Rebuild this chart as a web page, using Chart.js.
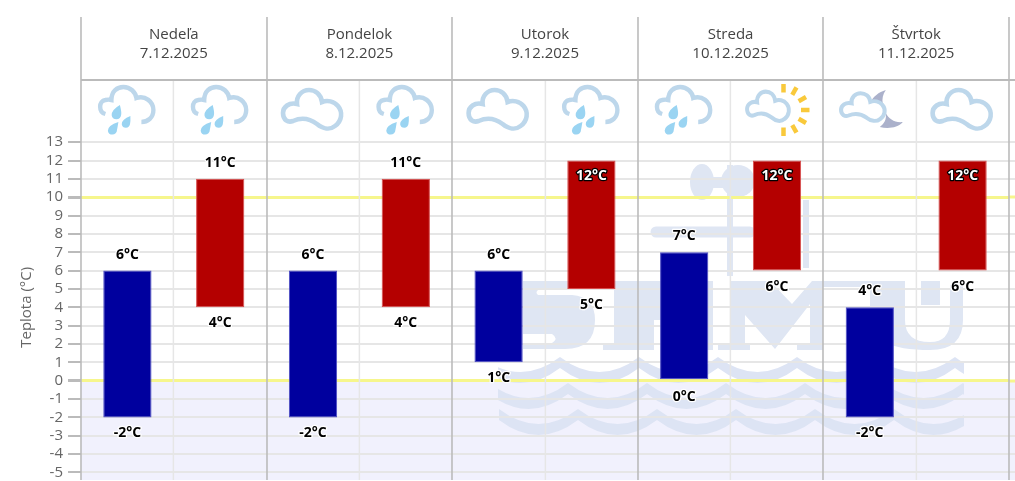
<!DOCTYPE html>
<html>
<head>
<meta charset="utf-8">
<script src="https://cdn.jsdelivr.net/npm/chart.js@4"></script>
<style>
    html, body { margin: 0; padding: 0; background: #fff; overflow: hidden; }
    canvas { display: block; }
</style>
</head>
<body>
<canvas id="teplota-chart" width="1015" height="481"></canvas>
<script>
// data
const days = ['Nedeľa', 'Pondelok', 'Utorok', 'Streda', 'Štvrtok'];
const dates = ['7.12.2025', '8.12.2025', '9.12.2025', '10.12.2025', '11.12.2025'];
const parts = ['N1', 'D1', 'N2', 'D2', 'N3', 'D3', 'N4', 'D4', 'N5', 'D5'];
const lows = [-2, 4, -2, 4, 1, 5, 0, 6, -2, 6];
const highs = [6, 11, 6, 11, 6, 12, 7, 12, 4, 12];
const icons = ['rain', 'rain', 'cloud', 'rain', 'cloud', 'rain', 'rain', 'sun', 'moon', 'cloud'];
const yTicks = [-5, -4, -3, -2, -1, 0, 1, 2, 3, 4, 5, 6, 7, 8, 9, 10, 11, 12, 13];

const FONT = '"Open Sans", sans-serif';
const LINE_DARK = '#bbbbbb';
const LINE_LIGHT = '#e6e6e6';
const YELLOW = '#f6f68c';
const CLOUD = '#bdd7eb';
const WATER = '#9ad4f2';
const MARK = '#dfe6f3';

// cloud outline, drawn in a 72x60 icon box
function cloudPath(ctx) {
    ctx.beginPath();
    ctx.moveTo(21, 24);
    ctx.bezierCurveTo(13, 22, 7, 27, 7, 33);
    ctx.bezierCurveTo(7, 40, 12, 43, 17, 41);
    ctx.bezierCurveTo(26, 37, 33, 38, 41, 44);
    ctx.bezierCurveTo(47, 49, 54, 50, 59, 46);
    ctx.bezierCurveTo(66, 41, 67, 32, 62, 26);
    ctx.bezierCurveTo(58, 21, 51, 20, 46, 22);
    ctx.bezierCurveTo(45, 14, 39, 10, 33, 10);
    ctx.bezierCurveTo(26, 10, 20, 16, 21, 24);
    ctx.closePath();
}

function drop(ctx, cx, cy, r, tipX, tipY) {
    ctx.beginPath();
    ctx.moveTo(tipX, tipY);
    ctx.quadraticCurveTo(cx + r + 0.5, cy - r * 0.5, cx + r, cy);
    ctx.arc(cx, cy, r, 0, Math.PI * 0.95);
    ctx.quadraticCurveTo(cx - r, cy - r, tipX, tipY);
    ctx.fill();
}

function drawRain(ctx) {
    ctx.strokeStyle = CLOUD;
    ctx.lineWidth = 4.4;
    ctx.beginPath();
    ctx.moveTo(15, 34);
    ctx.bezierCurveTo(8, 32, 8, 21, 15, 20);
    ctx.bezierCurveTo(17, 19.5, 19, 19.5, 21, 20);
    ctx.bezierCurveTo(21, 11, 27, 7, 33, 7);
    ctx.bezierCurveTo(40, 7, 45, 12, 46, 18);
    ctx.bezierCurveTo(55, 15, 63, 22, 63, 30);
    ctx.bezierCurveTo(63, 38, 57, 42, 51, 42);
    ctx.stroke();
    ctx.fillStyle = WATER;
    drop(ctx, 26, 34.5, 4.8, 29.5, 25);
    drop(ctx, 35.5, 43.5, 4.2, 40, 36);
    drop(ctx, 22, 50, 4.6, 28, 42);
}

function drawCloud(ctx) {
    ctx.strokeStyle = CLOUD;
    ctx.lineWidth = 4.6;
    cloudPath(ctx);
    ctx.stroke();
}

function drawSun(ctx) {
    ctx.strokeStyle = '#f9c93b';
    ctx.lineWidth = 4.5;
    for (let a = -90; a <= 90; a += 30) {
        let rad = a * Math.PI / 180;
        ctx.beginPath();
        ctx.moveTo(43.5 + 17.5 * Math.cos(rad), 30 + 17.5 * Math.sin(rad));
        ctx.lineTo(43.5 + 26 * Math.cos(rad), 30 + 26 * Math.sin(rad));
        ctx.stroke();
    }
    ctx.save();
    ctx.translate(2, 4);
    ctx.scale(0.72, 0.76);
    ctx.strokeStyle = CLOUD;
    ctx.lineWidth = 5.4;
    ctx.fillStyle = '#fff';
    cloudPath(ctx);
    ctx.fill();
    ctx.stroke();
    ctx.restore();
}

function drawMoon(ctx) {
    ctx.fillStyle = '#abb1cb';
    ctx.beginPath();
    ctx.moveTo(53, 10);
    ctx.bezierCurveTo(46, 12, 40, 17, 38, 22);
    ctx.bezierCurveTo(42, 20, 47, 21, 50, 24);
    ctx.bezierCurveTo(49, 19, 50, 14, 53, 10);
    ctx.fill();
    ctx.beginPath();
    ctx.moveTo(70, 42);
    ctx.bezierCurveTo(62, 43, 56, 39, 53, 33);
    ctx.bezierCurveTo(54, 40, 51, 44, 47, 47);
    ctx.bezierCurveTo(55, 49, 65, 48, 70, 42);
    ctx.fill();
    ctx.save();
    ctx.translate(3, 6);
    ctx.scale(0.75, 0.72);
    ctx.strokeStyle = CLOUD;
    ctx.lineWidth = 5.4;
    ctx.fillStyle = '#fff';
    cloudPath(ctx);
    ctx.fill();
    ctx.stroke();
    ctx.restore();
}

const iconDraw = { rain: drawRain, cloud: drawCloud, sun: drawSun, moon: drawMoon };

// one row of waves in the background logo
function waveRow(ctx, startX, cuspY) {
    const step = 79, depth = 15, thick = 11;
    let first = startX - step;
    let count = 8;
    ctx.beginPath();
    ctx.moveTo(first, cuspY);
    for (let k = 0; k < count; k++) {
        ctx.quadraticCurveTo(first + step * (k + 0.5), cuspY + depth * 2, first + step * (k + 1), cuspY);
    }
    ctx.lineTo(first + step * count, cuspY + thick);
    for (let k = count; k > 0; k--) {
        ctx.quadraticCurveTo(first + step * (k - 0.5), cuspY + thick + depth * 2, first + step * (k - 1), cuspY + thick);
    }
    ctx.closePath();
    ctx.fill();
}

function shape(ctx, points) {
    ctx.beginPath();
    points.forEach((p, i) => {
        if (i == 0) ctx.moveTo(p[0], p[1]);
        else ctx.lineTo(p[0], p[1]);
    });
    ctx.closePath();
    ctx.fill();
}

// SHMU logo behind the grid
function drawLogo(ctx) {
    ctx.save();
    ctx.fillStyle = MARK;
    ctx.strokeStyle = MARK;

    // wind vane
    ctx.fillRect(727, 165, 6, 111);
    ctx.fillRect(803, 200, 6, 68);
    ctx.beginPath();
    ctx.ellipse(702, 182, 12, 18, 0, 0, Math.PI * 2);
    ctx.fill();
    ctx.fillRect(702, 177, 55, 11);
    ctx.beginPath();
    ctx.ellipse(738, 181, 17, 16, 0, 0, Math.PI * 2);
    ctx.fill();
    ctx.lineCap = 'round';
    ctx.lineWidth = 11;
    ctx.beginPath();
    ctx.moveTo(656, 232);
    ctx.lineTo(750, 232);
    ctx.stroke();

    // S
    ctx.beginPath();
    ctx.moveTo(523, 281);
    ctx.lineTo(597, 281);
    ctx.lineTo(597, 290);
    ctx.lineTo(538, 290);
    ctx.quadraticCurveTo(535, 292.5, 538, 295);
    ctx.lineTo(572, 295);
    ctx.quadraticCurveTo(595, 297, 595, 320);
    ctx.quadraticCurveTo(595, 349, 565, 349);
    ctx.lineTo(523, 349);
    ctx.lineTo(523, 343);
    ctx.lineTo(552, 343);
    ctx.quadraticCurveTo(559, 338.5, 552, 334);
    ctx.lineTo(523, 334);
    ctx.closePath();
    ctx.fill();

    // H
    ctx.fillRect(614, 281, 99, 39);
    ctx.fillRect(614, 320, 40, 24);
    ctx.fillRect(603, 344, 51, 6);
    ctx.fillRect(661, 320, 52, 30);

    // M
    shape(ctx, [[730, 281], [770, 281], [792, 304], [812, 281], [905, 281], [905, 287], [823, 287],
        [823, 343], [823, 350], [797, 350], [797, 343], [810, 343], [810, 304], [775, 349], [745, 315],
        [745, 343], [750, 343], [750, 350], [718, 350], [718, 343], [730, 343]]);

    // U
    ctx.beginPath();
    ctx.moveTo(870, 281);
    ctx.lineTo(905, 281);
    ctx.lineTo(905, 320);
    ctx.quadraticCurveTo(905, 342, 930, 342);
    ctx.quadraticCurveTo(950, 342, 950, 320);
    ctx.lineTo(950, 285);
    ctx.lineTo(963, 285);
    ctx.lineTo(963, 320);
    ctx.quadraticCurveTo(963, 350, 930, 350);
    ctx.quadraticCurveTo(870, 350, 870, 320);
    ctx.closePath();
    ctx.fill();
    ctx.fillRect(921, 281, 19, 24);

    // waves
    ctx.beginPath();
    ctx.rect(498, 340, 466, 110);
    ctx.clip();
    ctx.fillStyle = '#dde4f4';
    waveRow(ctx, 560, 357);
    waveRow(ctx, 568, 383);
    waveRow(ctx, 578, 409);
    ctx.restore();
}

// area below zero, logo, header lines and texts, icons
const backgroundPlugin = {
    id: 'background',
    beforeDraw(chart) {
        const { ctx, chartArea: area, scales: { y } } = chart;
        ctx.save();
        ctx.fillStyle = '#f1f1fd';
        ctx.fillRect(area.left, y.getPixelForValue(0), chart.width - area.left, area.bottom - y.getPixelForValue(0));
        drawLogo(ctx);
        ctx.restore();
    },
    beforeDatasetsDraw(chart) {
        const { ctx, chartArea: area, scales: { x, y } } = chart;
        const headerY = 80;
        const halfStep = (x.getPixelForValue(1) - x.getPixelForValue(0)) / 2;
        ctx.save();

        // grid goes on past the last day, up to the edge of the picture
        yTicks.forEach(value => {
            const py = Math.round(y.getPixelForValue(value));
            const special = value === 0 || value === 10;
            ctx.strokeStyle = special ? YELLOW : LINE_LIGHT;
            ctx.lineWidth = special ? 3 : 2;
            ctx.beginPath();
            ctx.moveTo(area.right, py);
            ctx.lineTo(chart.width, py);
            ctx.stroke();
        });

        // vertical lines
        parts.forEach((part, i) => {
            const px = Math.round(x.getPixelForValue(i));
            ctx.strokeStyle = LINE_LIGHT;
            ctx.lineWidth = 1.5;
            if (i % 2 == 0) {
                ctx.beginPath();
                ctx.moveTo(px + halfStep, headerY);
                ctx.lineTo(px + halfStep, area.bottom);
                ctx.stroke();
            }
        });
        for (let i = 0; i <= parts.length; i += 2) {
            const px = Math.round(x.getPixelForValue(i) - halfStep);
            ctx.strokeStyle = LINE_DARK;
            ctx.lineWidth = 1.6;
            ctx.beginPath();
            ctx.moveTo(px, area.top);
            ctx.lineTo(px, area.bottom);
            ctx.stroke();
        }
        ctx.strokeStyle = LINE_DARK;
        ctx.lineWidth = 2;
        ctx.beginPath();
        ctx.moveTo(area.left, headerY);
        ctx.lineTo(chart.width, headerY);
        ctx.stroke();

        // days
        ctx.fillStyle = '#444';
        ctx.font = '15px ' + FONT;
        ctx.textAlign = 'center';
        ctx.textBaseline = 'middle';
        days.forEach((day, i) => {
            const cx = (x.getPixelForValue(i * 2) + x.getPixelForValue(i * 2 + 1)) / 2;
            ctx.fillText(day, cx, 35);
            ctx.fillText(dates[i], cx, 54);
        });

        // icons
        icons.forEach((name, i) => {
            ctx.save();
            ctx.translate(x.getPixelForValue(i) - 37, headerY);
            iconDraw[name](ctx);
            ctx.restore();
        });

        // axis title
        ctx.save();
        ctx.translate(27, (y.getPixelForValue(13) + y.getPixelForValue(-5)) / 2);
        ctx.rotate(-Math.PI / 2);
        ctx.fillStyle = '#666';
        ctx.font = '15px ' + FONT;
        ctx.fillText('Teplota (°C)', 0, 0);
        ctx.restore();

        ctx.restore();
    }
};

// value labels on the ends of the bars
const labelPlugin = {
    id: 'barLabels',
    afterDatasetsDraw(chart) {
        const { ctx, scales: { x, y } } = chart;
        ctx.save();
        ctx.font = 'bold 14px ' + FONT;
        ctx.textAlign = 'center';
        ctx.textBaseline = 'middle';
        ctx.lineJoin = 'round';
        ctx.lineWidth = 2.5;
        parts.forEach((part, i) => {
            const cx = x.getPixelForValue(i);
            const top = y.getPixelForValue(highs[i]);
            const bottom = y.getPixelForValue(lows[i]);
            // no room above the 12 bars, the label goes inside
            const inside = highs[i] >= 12;
            ctx.strokeStyle = inside ? '#000' : '#fff';
            ctx.fillStyle = inside ? '#fff' : '#000';
            const topY = inside ? top + 16 : top - 16;
            ctx.strokeText(highs[i] + '°C', cx, topY);
            ctx.fillText(highs[i] + '°C', cx, topY);
            ctx.strokeStyle = '#fff';
            ctx.fillStyle = '#000';
            ctx.strokeText(lows[i] + '°C', cx, bottom + 16);
            ctx.fillText(lows[i] + '°C', cx, bottom + 16);
        });
        ctx.restore();
    }
};

new Chart(document.getElementById('teplota-chart').getContext('2d'), {
    type: 'bar',
    data: {
        labels: parts,
        datasets: [{
            label: 'Teplota',
            data: parts.map((part, i) => [lows[i], highs[i]]),
            backgroundColor: parts.map((part, i) => i % 2 == 0 ? '#00009e' : '#b40000'),
            borderColor: parts.map((part, i) => i % 2 == 0 ? '#4a4ac4' : '#d84c4c'),
            borderWidth: 1,
            borderSkipped: false,
            barPercentage: 0.52,
            categoryPercentage: 1
        }]
    },
    options: {
        responsive: false,
        animation: false,
        layout: { padding: { top: 17, right: 6, bottom: 1, left: 0 } },
        plugins: { legend: { display: false }, tooltip: { enabled: false } },
        scales: {
            x: { display: false },
            y: {
                min: -5.41,
                max: 19.82,
                afterBuildTicks: scale => { scale.ticks = yTicks.map(value => ({ value: value })); },
                afterFit: scale => {
                    scale.width = 81;
                    scale.paddingTop = 0;
                    scale.paddingBottom = 0;
                },
                border: { display: false },
                grid: {
                    lineWidth: c => (c.tick.value === 0 || c.tick.value === 10) ? 3 : 2,
                    tickLength: 13,
                    tickColor: LINE_DARK,
                    color: c => (c.tick.value === 0 || c.tick.value === 10) ? YELLOW : LINE_LIGHT
                },
                ticks: {
                    padding: 5,
                    color: '#666',
                    font: { family: '"Open Sans", sans-serif', size: 15 },
                    autoSkip: false
                }
            }
        }
    },
    plugins: [backgroundPlugin, labelPlugin]
});
</script>
</body>
</html>
